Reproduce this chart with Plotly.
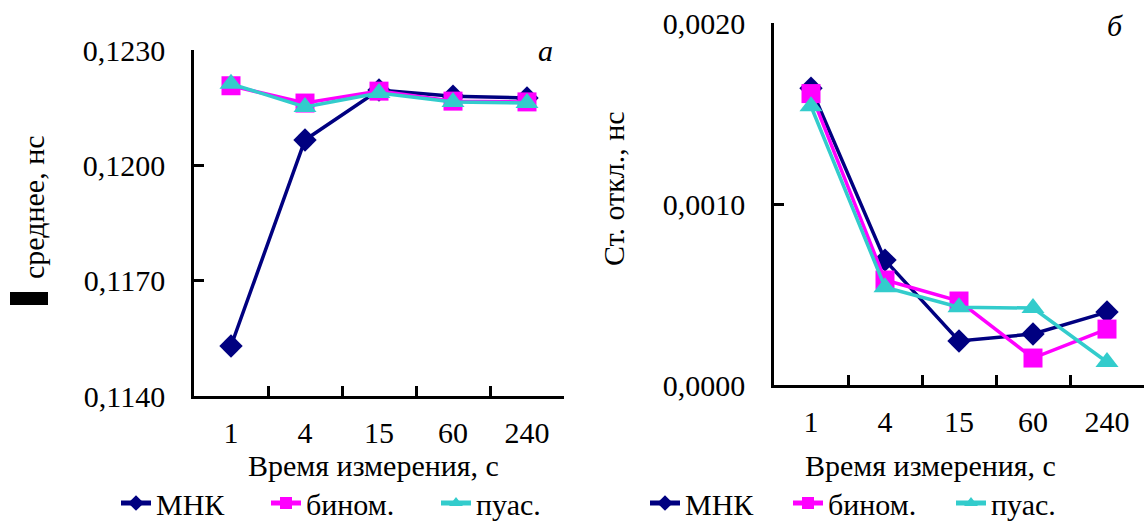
import plotly.graph_objects as go

categories = ["1", "4", "15", "60", "240"]

mean_mnk = [0.11530, 0.12066, 0.12196, 0.12180, 0.12175]
mean_binom = [0.12207, 0.12162, 0.12193, 0.12167, 0.12165]
mean_puas = [0.12212, 0.12152, 0.12188, 0.12165, 0.12162]

std_mnk = [0.00164, 0.00069, 0.000243, 0.000282, 0.000403]
std_binom = [0.00161, 0.00058, 0.000464, 0.000149, 0.000309]
std_puas = [0.00154, 0.00054, 0.000430, 0.000425, 0.000127]

series_names = ["МНК", "бином.", "пуас."]
colors = ["#000080", "#FF00FF", "#33CCCC"]
symbols = ["diamond", "square", "triangle-up"]
msizes = [18, 19, 20]

FONT = "Liberation Serif"
FS = 30

W, H = 1144, 522
def px(x):
    return x / W
def py(y):
    return (H - y) / H

fig = go.Figure()

left_legends = ["legend", "legend2", "legend3"]
right_legends = ["legend4", "legend5", "legend6"]

for vals, name, col, sym, ms, lg in zip([mean_mnk, mean_binom, mean_puas], series_names, colors,
                                        symbols, msizes, left_legends):
    fig.add_trace(go.Scatter(x=categories, y=vals, name=name, mode="lines+markers",
                             line=dict(color=col, width=3.5),
                             marker=dict(symbol=sym, size=ms, color=col),
                             xaxis="x", yaxis="y", legend=lg, showlegend=True))
for vals, name, col, sym, ms, lg in zip([std_mnk, std_binom, std_puas], series_names, colors,
                                        symbols, msizes, right_legends):
    fig.add_trace(go.Scatter(x=categories, y=vals, name=name, mode="lines+markers",
                             line=dict(color=col, width=3.5),
                             marker=dict(symbol=sym, size=ms, color=col),
                             xaxis="x2", yaxis="y2", legend=lg, showlegend=True))

xcommon = dict(type="category", tickson="boundaries", ticks="inside", ticklen=10, tickwidth=2.5,
               tickcolor="black", showline=True, linecolor="black", linewidth=2.5,
               showgrid=False, zeroline=False, range=[-0.5, 4.5], automargin=False,
               tickfont=dict(family=FONT, size=FS, color="black"), ticklabelstandoff=8)
ycommon = dict(ticks="inside", ticklen=10, tickwidth=2.5, tickcolor="black", showline=True,
               linecolor="black", linewidth=2.5, showgrid=False, zeroline=False, automargin=False,
               tickfont=dict(family=FONT, size=FS, color="black"), tickformat=".4f",
               ticklabelstandoff=20)

def leg(x_text):
    return dict(orientation="h", font=dict(family=FONT, size=FS, color="black"),
                bgcolor="rgba(0,0,0,0)", xanchor="left", yanchor="middle",
                itemsizing="constant", x=px(x_text - 42), y=py(503), visible=True)

def ann(text, x, y, **kw):
    return dict(text=text, x=px(x), y=py(y), xref="paper", yref="paper", showarrow=False,
                xanchor="center", yanchor="middle", font=dict(family=FONT, size=FS, color="black"), **kw)

fig.update_layout(
    width=W, height=H,
    showlegend=True,
    margin=dict(l=0, r=0, t=0, b=0, autoexpand=False),
    paper_bgcolor="white", plot_bgcolor="white",
    separators=", ",
    font=dict(family=FONT, size=FS, color="black"),
    xaxis=dict(domain=[px(194), px(564)], anchor="y", **xcommon),
    yaxis=dict(domain=[py(396), py(50)], anchor="x", range=[0.1140, 0.1230], dtick=0.003,
               tick0=0.1140, **ycommon),
    xaxis2=dict(domain=[px(774), px(1144)], anchor="y2", **xcommon),
    yaxis2=dict(domain=[py(385), py(23)], anchor="x2", range=[0, 0.0020], dtick=0.001, **ycommon),
    legend=leg(158), legend2=leg(308), legend3=leg(478),
    legend4=leg(687), legend5=leg(830), legend6=leg(993),
    annotations=[
        ann("Время измерения, с", 373, 465),
        ann("Время измерения, с", 930, 465),
        ann("среднее, нс", 33, 207, textangle=-90),
        ann("Ст. откл., нс", 614, 189, textangle=-90),
        ann("<i>а</i>", 545, 50),
        ann("<i>б</i>", 1115, 26),
    ],
    shapes=[dict(type="rect", xref="paper", yref="paper", x0=px(10), x1=px(48),
                 y0=py(305), y1=py(292), fillcolor="black", line=dict(width=0))],
)

fig.write_html("out.html", config={"displayModeBar": False},
               post_script="document.body.style.margin='0';")
